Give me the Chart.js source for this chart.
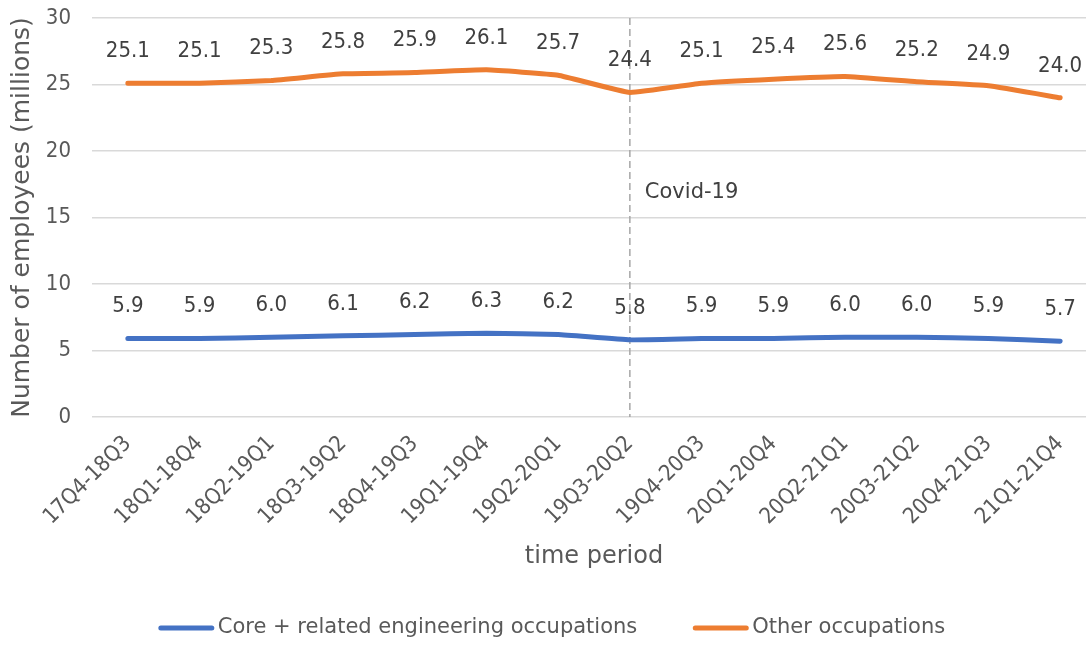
<!DOCTYPE html>
<html>
<head>
<meta charset="utf-8">
<script src="https://cdn.jsdelivr.net/npm/chart.js@4.4.1/dist/chart.umd.min.js"></script>
<style>
  html, body { margin: 0; padding: 0; background: #fff; overflow: hidden; }
  #wrap { width: 1104px; height: 645px; }
</style>
</head>
<body>
<div id="wrap"><canvas id="chart"></canvas></div>
<script>
// data
const periods = ['17Q4-18Q3', '18Q1-18Q4', '18Q2-19Q1', '18Q3-19Q2', '18Q4-19Q3', '19Q1-19Q4', '19Q2-20Q1',
    '19Q3-20Q2', '19Q4-20Q3', '20Q1-20Q4', '20Q2-21Q1', '20Q3-21Q2', '20Q4-21Q3', '21Q1-21Q4'];
const coreEngineering = [5.9, 5.9, 6.0, 6.1, 6.2, 6.3, 6.2, 5.8, 5.9, 5.9, 6.0, 6.0, 5.9, 5.7];
const otherOccupations = [25.1, 25.1, 25.3, 25.8, 25.9, 26.1, 25.7, 24.4, 25.1, 25.4, 25.6, 25.2, 24.9, 24.0];
const yTicks = [0, 5, 10, 15, 20, 25, 30];
const covidPeriod = '19Q3-20Q2';
const covidText = 'Covid-19';

const NARROW = "'DejaVu Sans Condensed', 'Noto Sans', sans-serif";
const WIDE = "'DejaVu Sans', 'Noto Sans', sans-serif";
const TEXT = '#595959';
Chart.defaults.font.family = NARROW;
Chart.defaults.color = TEXT;

// value labels above points
const valueLabels = {
    id: 'valueLabels',
    afterDatasetsDraw(chart) {
        const ctx = chart.ctx;
        ctx.save();
        ctx.font = '22px ' + NARROW;
        ctx.fillStyle = '#404040';
        ctx.textAlign = 'center';
        ctx.textBaseline = 'middle';
        chart.data.datasets.forEach((ds, i) => {
            chart.getDatasetMeta(i).data.forEach((pt, j) => {
                ctx.fillText(ds.data[j].toFixed(1), pt.x, pt.y - 32);
            });
        });
        ctx.restore();
    }
};

// dashed covid marker
const covidMarker = {
    id: 'covidMarker',
    beforeDatasetsDraw(chart) {
        const ctx = chart.ctx;
        const x = chart.scales.x.getPixelForValue(periods.indexOf(covidPeriod));
        const area = chart.chartArea;
        ctx.save();
        ctx.strokeStyle = '#a6a6a6';
        ctx.lineWidth = 1.5;
        ctx.setLineDash([7, 4]);
        ctx.beginPath();
        ctx.moveTo(x, area.top);
        ctx.lineTo(x, area.bottom);
        ctx.stroke();
        ctx.setLineDash([]);
        ctx.font = '21px ' + WIDE;
        ctx.fillStyle = '#404040';
        ctx.textAlign = 'left';
        ctx.textBaseline = 'middle';
        ctx.fillText(covidText, x + 15, chart.scales.y.getPixelForValue(16.9));
        ctx.restore();
    }
};

// legend at the bottom, line swatches
const bottomLegend = {
    id: 'bottomLegend',
    afterDraw(chart) {
        const ctx = chart.ctx;
        ctx.save();
        ctx.font = '21px ' + WIDE;
        ctx.textBaseline = 'middle';
        ctx.textAlign = 'left';
        const swatch = 55, gapText = 4, gapItem = 56;
        const items = chart.data.datasets.map(ds => ({
            label: ds.label, color: ds.borderColor, w: swatch + gapText + ctx.measureText(ds.label).width
        }));
        const total = items.reduce((s, it) => s + it.w, 0) + gapItem * (items.length - 1);
        let x = chart.width / 2 - total / 2;
        const y = 628;
        items.forEach(it => {
            ctx.strokeStyle = it.color;
            ctx.lineWidth = 5;
            ctx.lineCap = 'round';
            ctx.beginPath();
            ctx.moveTo(x + 2, y);
            ctx.lineTo(x + swatch - 2, y);
            ctx.stroke();
            ctx.fillStyle = TEXT;
            ctx.fillText(it.label, x + swatch + gapText, y);
            x += it.w + gapItem;
        });
        ctx.restore();
    }
};

new Chart(document.getElementById('chart'), {
    type: 'line',
    data: {
        labels: periods,
        datasets: [{
            label: 'Core + related engineering occupations',
            data: coreEngineering,
            borderColor: '#4472c4',
            backgroundColor: '#4472c4',
            borderWidth: 5,
            pointRadius: 0,
            tension: 0.1,
            borderCapStyle: 'round'
        }, {
            label: 'Other occupations',
            data: otherOccupations,
            borderColor: '#ed7d31',
            backgroundColor: '#ed7d31',
            borderWidth: 5,
            pointRadius: 0,
            tension: 0.1,
            borderCapStyle: 'round'
        }]
    },
    options: {
        responsive: true,
        maintainAspectRatio: false,
        animation: false,
        layout: {
            padding: { top: 18, right: 8, bottom: 36, left: 0 }
        },
        scales: {
            x: {
                offset: true,
                grid: { display: false },
                border: { display: false },
                ticks: {
                    minRotation: 45,
                    maxRotation: 45,
                    autoSkip: false,
                    padding: 6,
                    font: { size: 22 },
                    color: TEXT
                },
                title: {
                    display: true,
                    text: 'time period',
                    font: { size: 24, family: WIDE },
                    color: TEXT,
                    padding: { top: 0, bottom: 38 }
                },
                afterFit(scale) { scale.height = 192; }
            },
            y: {
                min: 0,
                max: 30,
                afterBuildTicks(scale) { scale.ticks = yTicks.map(v => ({ value: v })); },
                grid: { color: '#d9d9d9', lineWidth: 1.5, drawTicks: false },
                border: { display: false },
                ticks: {
                    padding: 21,
                    font: { size: 22 },
                    color: TEXT
                },
                title: {
                    display: true,
                    text: 'Number of employees (millions)',
                    font: { size: 25, family: WIDE },
                    color: TEXT,
                    padding: { top: 7, bottom: 0 }
                },
                afterFit(scale) {
                    scale.width = 92;
                    scale.paddingTop = 0;
                    scale.paddingBottom = 0;
                }
            }
        },
        plugins: {
            legend: { display: false },
            tooltip: { enabled: false }
        }
    },
    plugins: [covidMarker, valueLabels, bottomLegend]
});
</script>
</body>
</html>
